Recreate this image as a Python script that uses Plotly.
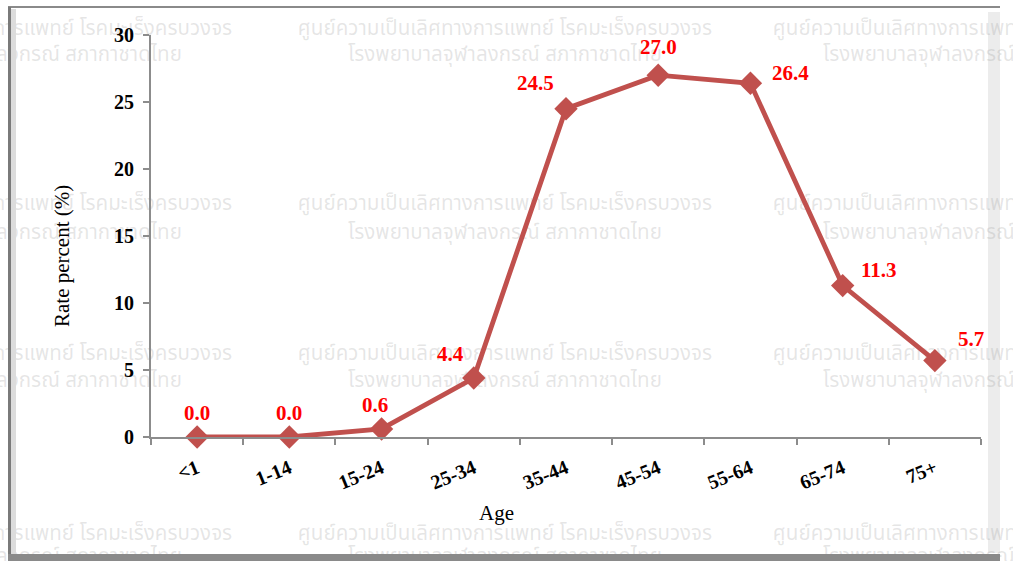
import plotly.graph_objects as go

# ---- data ----
age_groups = ["<1", "1-14", "15-24", "25-34", "35-44", "45-54", "55-64", "65-74", "75+"]
rate_percent = [0.0, 0.0, 0.6, 4.4, 24.5, 27.0, 26.4, 11.3, 5.7]
y_ticks = [0, 5, 10, 15, 20, 25, 30]
x_title = "Age"
y_title = "Rate percent (%)"
# label offsets (pixels) from each point
label_dx = [0, 0, -7, -23, -31, 0, 40, 36, 36]
label_dy = [24, 24, 24, 24, 26, 28, 10, 16, 22]

wm_line1 = "ศูนย์ความเป็นเลิศทางการแพทย์ โรคมะเร็งครบวงจร"
wm_line2 = "โรงพยาบาลจุฬาลงกรณ์ สภากาชาดไทย"

W, H = 1013, 561
PX_L, PX_R, PX_T, PX_B = 151, 981, 35, 437
n = len(age_groups)

# watermark tiles (pixel centres on the page)
wm_cols = [25, 505, 980]
wm_rows = [(30, 56), (205, 234), (355, 382), (535, 558)]
wm_x, wm_y, wm_t = [], [], []
for cx in wm_cols:
    for r1, r2 in wm_rows:
        wm_x += [cx, cx]
        wm_y += [r1, r2]
        wm_t += [wm_line1, wm_line2]

xs = list(range(n))
SERIF = "Liberation Serif"

fig = go.Figure()
# watermark on a full-page pixel subplot (drawn underneath)
fig.add_trace(go.Scatter(
    x=wm_x, y=wm_y, text=wm_t, mode="text", cliponaxis=False, xaxis="x", yaxis="y",
    textfont=dict(family="Noto Sans Thai, Tahoma, DejaVu Sans, sans-serif", size=20.6,
                  color="rgba(140,140,140,0.22)"),
    hoverinfo="skip", showlegend=False))
# data
fig.add_trace(go.Scatter(
    x=xs, y=rate_percent, mode="lines+markers", cliponaxis=False, xaxis="x2", yaxis="y2",
    line=dict(color="#C0504D", width=4.8),
    marker=dict(symbol="diamond", size=18, color="#C0504D"),
    showlegend=False))

annotations = [
    dict(x=x, y=v, xref="x2", yref="y2", text=f"{v:.1f}", showarrow=False,
         xshift=dx, yshift=dy, xanchor="center", yanchor="middle",
         font=dict(family=SERIF, size=21, color="#FF0000", weight="bold"))
    for x, v, dx, dy in zip(xs, rate_percent, label_dx, label_dy)
]
annotations += [
    dict(x=496 / W, y=1 - 513 / H, xref="paper", yref="paper", text=x_title, showarrow=False,
         xanchor="center", yanchor="middle", font=dict(family=SERIF, size=21, color="black")),
    dict(x=62 / W, y=1 - 256 / H, xref="paper", yref="paper", text=y_title, showarrow=False,
         textangle=-90, xanchor="center", yanchor="middle",
         font=dict(family=SERIF, size=21, color="black")),
]

fig.update_layout(
    width=W, height=H, margin=dict(l=0, r=0, t=0, b=0, autoexpand=False),
    paper_bgcolor="white", plot_bgcolor="rgba(0,0,0,0)",
    annotations=annotations,
    xaxis=dict(domain=[0, 1], range=[0, W], visible=False, fixedrange=True, automargin=False),
    yaxis=dict(domain=[0, 1], range=[H, 0], visible=False, fixedrange=True, automargin=False),
    xaxis2=dict(domain=[PX_L / W, PX_R / W], range=[-0.5, n - 0.5], anchor="y2", automargin=False,
                tickvals=xs, ticktext=age_groups, ticks="", tickangle=-22, ticklabelstandoff=10,
                showgrid=False, zeroline=False, showline=True, linecolor="#8c8c8c", linewidth=2,
                tickfont=dict(family=SERIF, size=20, color="black", weight="bold"),
                minor=dict(tick0=-0.5, dtick=1, ticks="outside", ticklen=6, tickcolor="#8c8c8c",
                           tickwidth=2, showgrid=False)),
    yaxis2=dict(domain=[1 - PX_B / H, 1 - PX_T / H], range=[0, 30], anchor="x2", automargin=False,
                tickvals=y_ticks, ticklabelstandoff=5,
                ticks="outside", ticklen=6, tickcolor="#8c8c8c", tickwidth=2,
                showgrid=False, zeroline=False, showline=True, linecolor="#8c8c8c", linewidth=2,
                tickfont=dict(family=SERIF, size=20, color="black", weight="bold")),
    shapes=[
        dict(type="rect", xref="paper", yref="paper", x0=988 / W, x1=1000 / W, y0=1 - 553 / H, y1=1 - 12 / H,
             fillcolor="#ececec", line=dict(width=0), layer="below"),
        dict(type="line", xref="paper", yref="paper", x0=8 / W, x1=1000 / W, y0=1 - 7 / H, y1=1 - 7 / H,
             line=dict(color="#8a8a8a", width=2)),
        dict(type="rect", xref="paper", yref="paper", x0=8 / W, x1=11 / W, y0=1 - 558 / H, y1=1 - 7 / H,
             fillcolor="#7a7a7a", line=dict(width=0)),
        dict(type="rect", xref="paper", yref="paper", x0=11 / W, x1=16 / W, y0=1 - 556 / H, y1=1 - 9 / H,
             fillcolor="#dcdcdc", line=dict(width=0)),
        dict(type="rect", xref="paper", yref="paper", x0=8 / W, x1=1000 / W, y0=1 - 561 / H, y1=1 - 554 / H,
             fillcolor="#8a8a8a", line=dict(width=0)),
    ],
)

fig.write_html("out.html", config={"displayModeBar": False},
               post_script="document.body.style.margin='0';document.body.style.overflow='hidden';")
